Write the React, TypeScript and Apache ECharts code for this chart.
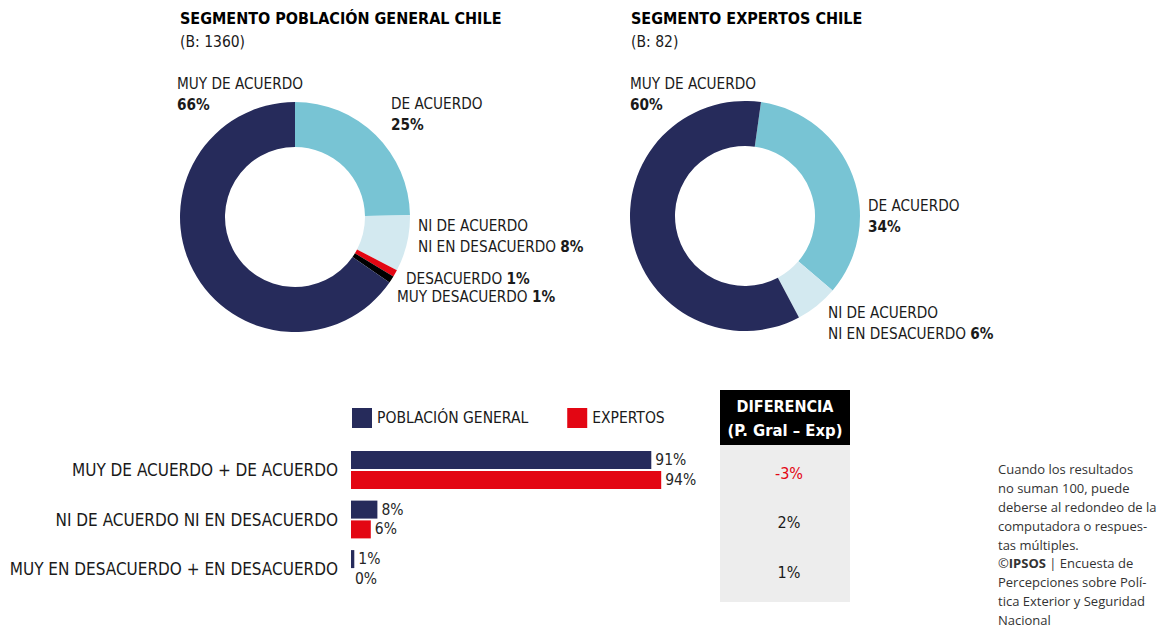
import React, { useEffect, useRef } from "react";
import * as echarts from "echarts";

const FONT = "'Liberation Sans Narrow', 'Arial Narrow', 'DejaVu Sans Condensed', sans-serif";
const NOTE_FONT = "'Open Sans', 'Noto Sans', sans-serif";

const NAVY = "#262B5B";
const LIGHT = "#78C4D4";
const PALE = "#D3E9F0";
const RED = "#E30613";
const BLACK = "#000000";

// Pie: Población general
const pieGeneralNames = ["DE ACUERDO", "NI DE ACUERDO NI EN DESACUERDO", "DESACUERDO", "MUY DESACUERDO", "MUY DE ACUERDO"];
const pieGeneralValues = [25, 8, 1, 1, 66];
const pieGeneralColors = [LIGHT, PALE, RED, BLACK, NAVY];

// Pie: Expertos
const pieExpertNames = ["DE ACUERDO", "NI DE ACUERDO NI EN DESACUERDO", "MUY DE ACUERDO"];
const pieExpertValues = [34, 6, 60];
const pieExpertColors = [LIGHT, PALE, NAVY];

// Bars
const barCategories = ["MUY DE ACUERDO + DE ACUERDO", "NI DE ACUERDO NI EN DESACUERDO", "MUY EN DESACUERDO + EN DESACUERDO"];
const barGeneral = [91, 8, 1];
const barExpert = [94, 6, 0];
const diffValues = [-3, 2, 1];

const noteLines = [
  "Cuando los resultados",
  "no suman 100, puede",
  "deberse al redondeo de la",
  "computadora o respues-",
  "tas múltiples.",
  "©{b|IPSOS} | Encuesta de",
  "Percepciones sobre Polí-",
  "tica Exterior y Seguridad",
  "Nacional",
];

function labelText(name: string, value: number): string {
  if (name === "NI DE ACUERDO NI EN DESACUERDO") return `NI DE ACUERDO\nNI EN DESACUERDO {b|${value}%}`;
  if (name === "DESACUERDO" || name === "MUY DESACUERDO") return `${name} {b|${value}%}`;
  return `${name}\n{b|${value}%}`;
}

const pieLabelPosGeneral: Record<string, [number, number]> = {
  "MUY DE ACUERDO": [177, 73],
  "DE ACUERDO": [391, 93],
  "NI DE ACUERDO NI EN DESACUERDO": [418, 215],
  DESACUERDO: [406, 268],
  "MUY DESACUERDO": [397, 286],
};
const pieLabelPosExpert: Record<string, [number, number]> = {
  "MUY DE ACUERDO": [630, 73],
  "DE ACUERDO": [868, 195],
  "NI DE ACUERDO NI EN DESACUERDO": [828, 302],
};

function makePie(names: string[], values: number[], colors: string[], center: [number, number], startAngle: number, pos: Record<string, [number, number]>) {
  return {
    type: "pie",
    center,
    radius: [70, 115],
    startAngle,
    clockwise: true,
    silent: true,
    avoidLabelOverlap: false,
    data: names.map((n, i) => ({ name: n, value: values[i], itemStyle: { color: colors[i] } })),
    label: {
      show: true,
      position: "outside",
      fontFamily: FONT,
      fontSize: 15.2,
      color: "#1a1a1a",
      lineHeight: 21,
      formatter: (p: any) => labelText(p.name, p.value),
      rich: { b: { fontFamily: FONT, fontSize: 15.2, fontWeight: "bold", color: "#1a1a1a", lineHeight: 21 } },
    },
    labelLine: { show: false },
    labelLayout: (p: any) => {
      const name = names[p.dataIndex];
      const xy = pos[name];
      return { x: xy[0], y: xy[1], align: "left", verticalAlign: "top" };
    },
  };
}

export default function App() {
  const ref = useRef<HTMLDivElement>(null);
  useEffect(() => {
    document.body.style.margin = "0";
    const chart = echarts.init(ref.current!, null, { renderer: "svg" });
    const rowY = [470, 519.5, 569];
    const option: any = {
      animation: false,
      backgroundColor: "#ffffff",
      textStyle: { fontFamily: FONT },
      legend: {
        left: 352,
        top: 408,
        padding: 0,
        itemWidth: 20,
        itemHeight: 20,
        itemGap: 39,
        icon: "rect",
        selectedMode: false,
        textStyle: { fontFamily: FONT, fontSize: 15.5, color: "#1a1a1a" },
        data: ["POBLACIÓN GENERAL", "EXPERTOS"],
      },
      grid: { left: 351, width: 330, top: 445.25, height: 148.5, containLabel: false },
      xAxis: { type: "value", min: 0, max: 100, show: false },
      yAxis: {
        type: "category",
        inverse: true,
        data: barCategories,
        axisLine: { show: false },
        axisTick: { show: false },
        axisLabel: { fontFamily: FONT, fontSize: 17, color: "#1a1a1a", margin: 13 },
      },
      series: [
        makePie(pieGeneralNames, pieGeneralValues, pieGeneralColors, [295, 217], 90, pieLabelPosGeneral),
        makePie(pieExpertNames, pieExpertValues, pieExpertColors, [745, 216], 82, pieLabelPosExpert),
        {
          type: "bar",
          name: "POBLACIÓN GENERAL",
          data: barGeneral,
          barWidth: 18,
          barGap: "10%",
          itemStyle: { color: NAVY },
          silent: true,
          label: { show: true, position: "right", distance: 4, formatter: "{c}%", fontFamily: FONT, fontSize: 15.5, color: "#262626" },
        },
        {
          type: "bar",
          name: "EXPERTOS",
          data: barExpert,
          barWidth: 18,
          barGap: "10%",
          itemStyle: { color: RED },
          silent: true,
          label: { show: true, position: "right", distance: 4, formatter: "{c}%", fontFamily: FONT, fontSize: 15.5, color: "#262626" },
        },
      ],
      graphic: [
        { type: "text", left: 180, top: 10, style: { text: "SEGMENTO POBLACIÓN GENERAL CHILE", fontFamily: FONT, fontSize: 16, fontWeight: "bold", fill: "#000" } },
        { type: "text", left: 180, top: 34, style: { text: "(B: 1360)", fontFamily: FONT, fontSize: 15.5, fill: "#1a1a1a" } },
        { type: "text", left: 631, top: 10, style: { text: "SEGMENTO EXPERTOS CHILE", fontFamily: FONT, fontSize: 16, fontWeight: "bold", fill: "#000" } },
        { type: "text", left: 631, top: 34, style: { text: "(B: 82)", fontFamily: FONT, fontSize: 15.5, fill: "#1a1a1a" } },
        { type: "rect", shape: { x: 720, y: 390, width: 130, height: 55 }, style: { fill: "#000" } },
        { type: "rect", shape: { x: 720, y: 445, width: 130, height: 157 }, style: { fill: "#EDEDED" } },
        { type: "text", x: 785, y: 406, style: { text: "DIFERENCIA", align: "center", verticalAlign: "middle", fontFamily: FONT, fontSize: 16, fontWeight: "bold", fill: "#fff" } },
        { type: "text", x: 785, y: 430, style: { text: "(P. Gral – Exp)", align: "center", verticalAlign: "middle", fontFamily: FONT, fontSize: 16.5, fontWeight: "bold", fill: "#fff" } },
        ...diffValues.map((v, i) => ({
          type: "text",
          x: 789,
          y: rowY[i] + 3,
          style: { text: `${v}%`, align: "center", verticalAlign: "middle", fontFamily: FONT, fontSize: 16, fill: v < 0 ? RED : "#1a1a1a" },
        })),
        {
          type: "text",
          x: 998,
          y: 460,
          style: {
            text: noteLines.join("\n"),
            fontFamily: NOTE_FONT,
            fontSize: 13,
            lineHeight: 18.8,
            fill: "#333",
            rich: { b: { fontFamily: NOTE_FONT, fontSize: 13, fontWeight: "bold", fill: "#333", lineHeight: 18.8 } },
          },
        },
      ],
    };
    chart.setOption(option);
    return () => chart.dispose();
  }, []);
  return <div ref={ref} style={{ width: 1169, height: 632 }} />;
}
